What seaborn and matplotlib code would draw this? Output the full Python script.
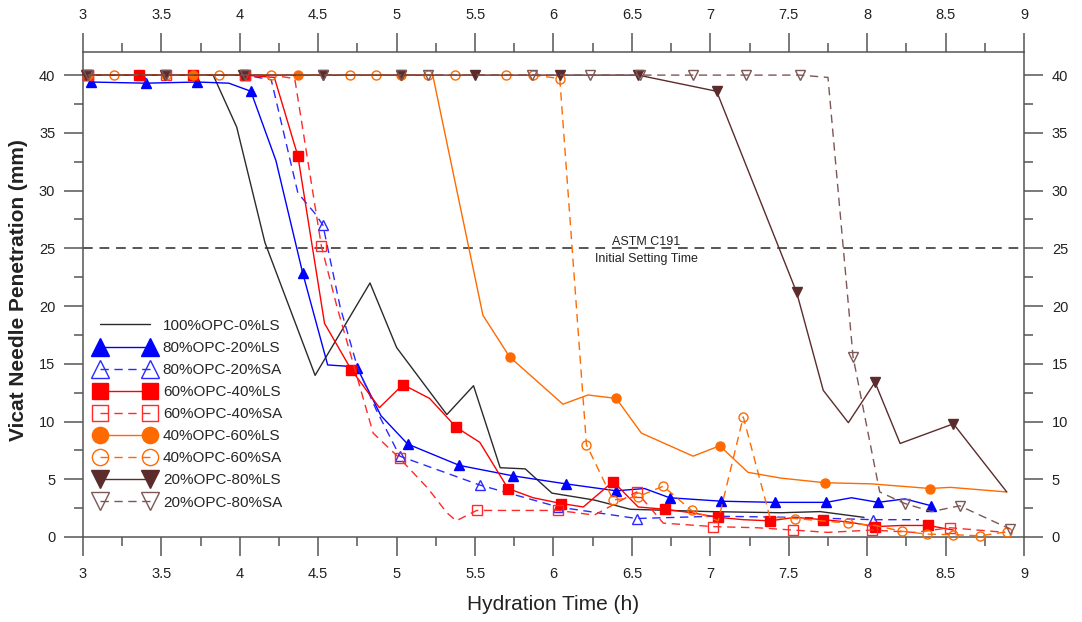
import matplotlib
matplotlib.use("Agg")
import matplotlib.pyplot as plt
from matplotlib.lines import Line2D
from matplotlib.ticker import MultipleLocator, FuncFormatter
import pandas as pd
import seaborn as sns

# ---------------- data ----------------
labels = ["100%OPC-0%LS", "80%OPC-20%LS", "80%OPC-20%SA", "60%OPC-40%LS",
          "60%OPC-40%SA", "40%OPC-60%LS", "40%OPC-60%SA", "20%OPC-80%LS",
          "20%OPC-80%SA"]

t_opc100 = [3.00, 3.83, 3.98, 4.16, 4.48, 4.83, 5.00, 5.32, 5.49, 5.66, 5.82,
            5.99, 6.26, 6.49, 7.00, 7.45, 7.70, 7.98]
v_opc100 = [40, 40, 35.5, 25.5, 14.0, 22.0, 16.4, 10.6, 13.1, 6.0, 5.9,
            3.8, 3.2, 2.4, 2.2, 2.1, 2.2, 1.7]

t_80ls = [3.05, 3.40, 3.73, 3.93, 4.07, 4.23, 4.40, 4.56, 4.67, 4.75, 4.90,
          5.07, 5.40, 5.74, 6.08, 6.40, 6.58, 6.74, 7.07, 7.41, 7.74, 7.90,
          8.07, 8.24, 8.41]
v_80ls = [39.4, 39.3, 39.4, 39.3, 38.6, 32.6, 22.9, 14.9, 14.8, 14.6, 10.5,
          8.05, 6.2, 5.3, 4.6, 4.0, 4.2, 3.4, 3.1, 3.0, 3.0, 3.4,
          3.0, 3.3, 2.7]
m_80ls = [0, 1, 2, 4, 6, 9, 11, 12, 13, 14, 15, 17, 18, 19, 20, 22, 24]

t_80sa = [3.03, 3.37, 3.70, 4.03, 4.20, 4.37, 4.48, 4.53, 4.64, 4.75, 4.87,
          5.02, 5.53, 6.03, 6.53, 7.03, 7.53, 8.04, 8.33]
v_80sa = [40, 40, 40, 40, 39.6, 29.8, 28.0, 27.0, 19.9, 14.7, 11.0,
          7.0, 4.5, 2.6, 1.6, 1.8, 1.7, 1.5, 1.5]
m_80sa = [0, 1, 2, 3, 7, 11, 12, 13, 14, 17]

t_60ls = [3.03, 3.36, 3.70, 4.03, 4.22, 4.37, 4.54, 4.71, 4.89, 5.04, 5.21,
          5.38, 5.53, 5.71, 5.87, 6.05, 6.19, 6.38, 6.54, 6.71, 6.88, 7.05,
          7.21, 7.38, 7.54, 7.72, 7.88, 8.05, 8.22, 8.39, 8.55]
v_60ls = [40, 40, 40, 40, 39.8, 33.0, 18.5, 14.5, 11.2, 13.2, 12.0,
          9.5, 8.2, 4.2, 3.4, 2.9, 2.6, 4.8, 2.6, 2.4, 2.1, 1.7,
          1.5, 1.4, 1.7, 1.5, 1.3, 0.9, 1.0, 1.0, 0.6]
m_60ls = [0, 1, 2, 3, 5, 7, 9, 11, 13, 15, 17, 19, 21, 23, 25, 27, 29]

t_60sa = [3.03, 3.53, 4.03, 4.20, 4.35, 4.52, 4.62, 4.85, 5.02, 5.20, 5.32,
          5.38, 5.51, 5.74, 6.03, 6.26, 6.53, 6.70, 7.02, 7.30, 7.53, 7.75,
          8.03, 8.30, 8.53, 8.88]
v_60sa = [40, 40, 40, 40, 39.7, 25.2, 19.9, 9.0, 6.8, 4.2, 2.1,
          1.4, 2.3, 2.3, 2.3, 1.9, 3.9, 1.2, 0.9, 0.8, 0.6, 0.4,
          0.6, 0.4, 0.8, 0.4]
m_60sa = [0, 1, 2, 5, 8, 12, 14, 16, 18, 20, 22, 24]

t_40ls = [3.03, 3.37, 3.70, 4.03, 4.37, 4.70, 5.03, 5.23, 5.55, 5.72, 6.06,
          6.22, 6.40, 6.56, 6.89, 7.06, 7.24, 7.45, 7.73, 8.03, 8.40, 8.53,
          8.89]
v_40ls = [40, 40, 40, 40, 40, 40, 40, 40, 19.2, 15.6, 11.5,
          12.3, 12.0, 9.0, 7.0, 7.9, 5.6, 5.1, 4.7, 4.6, 4.2, 4.3,
          3.9]
m_40ls = [0, 2, 4, 6, 9, 12, 15, 18, 20]

t_40sa = [3.03, 3.20, 3.53, 3.87, 4.20, 4.53, 4.70, 4.87, 5.20, 5.37, 5.70,
          5.87, 6.04, 6.21, 6.38, 6.54, 6.70, 6.88, 7.05, 7.21, 7.38, 7.54,
          7.71, 7.88, 8.05, 8.22, 8.38, 8.55, 8.72, 8.89]
v_40sa = [40, 40, 40, 40, 40, 40, 40, 40, 40, 40, 40,
          40, 39.7, 8.0, 3.2, 3.5, 4.4, 2.3, 1.4, 10.4, 1.7, 1.6,
          1.4, 1.2, 1.0, 0.5, 0.25, 0.2, 0.1, 0.45]
m_40sa = [1, 2, 3, 4, 6, 7, 8, 9, 10, 11, 12, 13, 14, 15, 16, 17, 19, 21,
          23, 25, 26, 27, 28, 29]

t_20ls = [3.02, 3.52, 4.02, 4.53, 5.03, 5.50, 6.04, 6.54, 7.04, 7.55, 7.72,
          7.88, 8.05, 8.21, 8.55, 8.89]
v_20ls = [40, 40, 40, 40, 40, 40, 40, 40, 38.6, 21.2, 12.7,
          9.9, 13.4, 8.1, 9.8, 3.9]
m_20ls = [0, 1, 2, 3, 4, 5, 6, 7, 8, 9, 12, 14]

t_20sa = [3.03, 3.53, 4.03, 4.53, 5.03, 5.20, 5.86, 6.23, 6.55, 6.89, 7.23,
          7.57, 7.75, 7.91, 8.08, 8.24, 8.41, 8.59, 8.91]
v_20sa = [40, 40, 40, 40, 40, 40, 40, 40, 40, 40, 40,
          40, 39.8, 15.6, 3.9, 2.9, 2.2, 2.7, 0.7]
m_20sa = [0, 1, 2, 3, 4, 5, 6, 7, 8, 9, 10, 11, 13, 15, 17, 18]

x_ticks = [3, 3.5, 4, 4.5, 5, 5.5, 6, 6.5, 7, 7.5, 8, 8.5, 9]
y_ticks = [0, 5, 10, 15, 20, 25, 30, 35, 40]
astm_level = 25
astm_text = ["ASTM C191", "Initial Setting Time"]

# ---------------- styles ----------------
styles = [
    dict(t=t_opc100, v=v_opc100, m=None, color="#2b2b2b", marker=None, filled=True, dashed=False),
    dict(t=t_80ls, v=v_80ls, m=m_80ls, color="#0000ff", marker="^", filled=True, dashed=False),
    dict(t=t_80sa, v=v_80sa, m=m_80sa, color="#2a2aff", marker="^", filled=False, dashed=True),
    dict(t=t_60ls, v=v_60ls, m=m_60ls, color="#ff0000", marker="s", filled=True, dashed=False),
    dict(t=t_60sa, v=v_60sa, m=m_60sa, color="#ff2a2a", marker="s", filled=False, dashed=True),
    dict(t=t_40ls, v=v_40ls, m=m_40ls, color="#ff6a00", marker="o", filled=True, dashed=False),
    dict(t=t_40sa, v=v_40sa, m=m_40sa, color="#ff6a00", marker="o", filled=False, dashed=True),
    dict(t=t_20ls, v=v_20ls, m=m_20ls, color="#5c2c2c", marker="v", filled=True, dashed=False),
    dict(t=t_20sa, v=v_20sa, m=m_20sa, color="#7d5656", marker="v", filled=False, dashed=True),
]
msize = {"^": 7, "v": 7, "s": 6.5, "o": 6.5, None: 0}

sns.set_style("ticks")
plt.rcParams["font.family"] = ["Liberation Sans", "DejaVu Sans"]

fig = plt.figure(figsize=(10.82, 6.22), dpi=100)
ax = fig.add_axes([83 / 1082, 85 / 622, 941 / 1082, 485 / 622])

ax.axhline(astm_level, color="#555555", lw=1.4, ls=(0, (5, 3.5)), zorder=1)

handles = []
for s in styles:
    df = pd.DataFrame({"t": s["t"], "v": s["v"]})
    ls = (0, (6, 4)) if s["dashed"] else "-"
    kw = dict(color=s["color"], lw=1.0, linestyle=ls, clip_on=False)
    hk = dict(color=s["color"], lw=1.0, linestyle=ls)
    if s["marker"] is not None:
        mk = dict(marker=s["marker"], markersize=msize[s["marker"]],
                  markeredgecolor=s["color"], markeredgewidth=1.0,
                  markerfacecolor=s["color"] if s["filled"] else "none")
        kw.update(mk)
        kw["markevery"] = s["m"]
        hk.update(mk)
    sns.lineplot(data=df, x="t", y="v", ax=ax, sort=False, estimator=None,
                 errorbar=None, legend=False, zorder=3, **kw)
    handles.append(Line2D([], [], **hk))

ax.set_xlim(3, 9)
ax.set_ylim(0, 42)
ax.set_xticks(x_ticks)
ax.set_yticks(y_ticks)
ax.xaxis.set_minor_locator(MultipleLocator(0.25))
ax.yaxis.set_minor_locator(MultipleLocator(2.5))
fmt = FuncFormatter(lambda x, p: f"{x:g}")
ax.xaxis.set_major_formatter(fmt)
ax.yaxis.set_major_formatter(fmt)

edge = "#555555"
for sp in ax.spines.values():
    sp.set_color(edge)
    sp.set_linewidth(1.1)
ax.tick_params(which="both", direction="out", top=True, right=True,
               labeltop=True, labelright=True, color=edge, width=1.1,
               labelsize=10.5, labelcolor="#222222", pad=6.5)
ax.tick_params(which="major", length=13.5)
ax.tick_params(which="minor", length=6.5)
ax.tick_params(axis="x", which="major", pad=8)

ax.set_xlabel("Hydration Time (h)", fontsize=15, color="#222222")
ax.set_ylabel("Vicat Needle Penetration (mm)", fontsize=15, fontweight="bold",
              color="#222222")
ax.xaxis.set_label_coords(0.5, -0.12)
ax.yaxis.set_label_coords(-0.058, 0.51)

ax.text(6.59, 25.55, astm_text[0], ha="center", va="center", fontsize=9,
        color="#222222", zorder=4)
ax.text(6.59, 24.1, astm_text[1], ha="center", va="center", fontsize=9,
        color="#222222", zorder=4)

ax.legend(handles, labels, loc="upper left", bbox_to_anchor=(0.0132, 0.45),
          frameon=False, numpoints=2, markerscale=1.8, handlelength=3.85,
          handletextpad=0.56, labelspacing=0.53, borderpad=0, borderaxespad=0,
          fontsize=11)

fig.savefig("out.png", dpi=100)
